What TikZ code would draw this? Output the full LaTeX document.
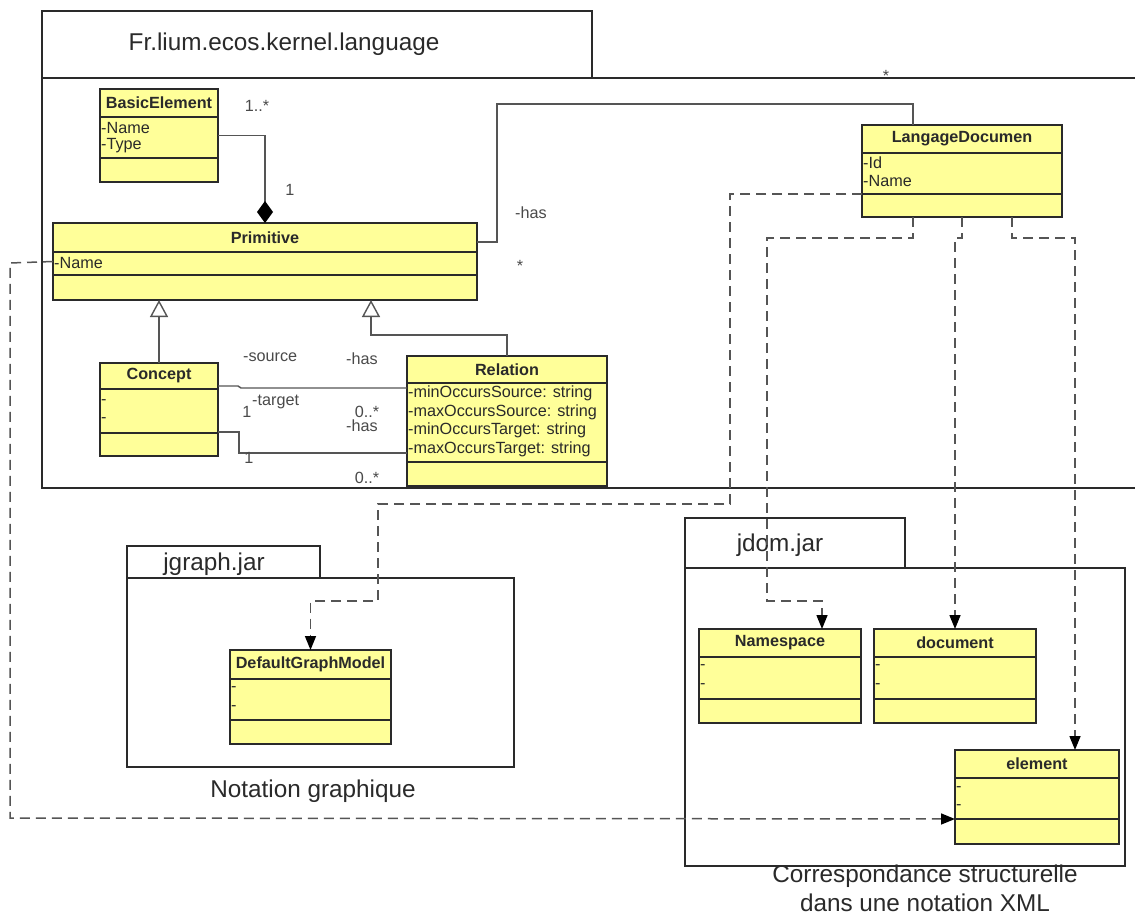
\documentclass[tikz,border=0pt]{standalone}
\usepackage{fontspec}
\setmainfont{Liberation Sans}
\usetikzlibrary{arrows.meta,calc}
\definecolor{clsfill}{HTML}{FFFF99}
\definecolor{ink}{HTML}{2A2A2A}
\definecolor{wire}{HTML}{555555}
\tikzset{
  cls/.style={draw=ink, fill=clsfill, line width=1.4pt, inner sep=0pt, outer sep=0pt, rectangle},
  divline/.style={draw=ink, line width=1.4pt},
  ctitle/.style={font=\bfseries\fontsize{16.2}{18}\selectfont, text=ink, inner sep=0pt},
  attr/.style={font=\fontsize{16.2}{18}\selectfont, text=ink, inner sep=0pt, anchor=west},
  lbl/.style={font=\fontsize{16.2}{18}\selectfont, text=ink!85, inner sep=0pt},
  big/.style={font=\fontsize{24.3}{28}\selectfont, text=ink, inner sep=0pt},
  pkgbox/.style={draw=ink, line width=1.4pt, inner sep=0pt, outer sep=0pt, rectangle, anchor=north west},
  pkgline/.style={draw=ink, line width=1.4pt},
  assoc/.style={draw=wire, line width=1.4pt},
  dep/.style={draw=wire, line width=1.5pt, dash pattern=on 10pt off 6pt,
    -{Triangle[length=14pt,width=11pt,color=black]}},
}
% #1 name, #2 x, #3 top y, #4 width, #5 height, #6 header bottom y, #7 attributes bottom y, #8 title
\newcommand{\umlcls}[8]{%
  \node[cls, minimum width=#4pt, minimum height=#5pt, anchor=north west] (#1) at (#2,#3) {};
  \draw[divline] (#2,#6) -- ++(#4,0);
  \draw[divline] (#2,#7) -- ++(#4,0);
  \node[ctitle] (#1-title) at ($(#2,#3)!0.5!(#2+#4,#6)$) {#8};
}
\begin{document}
\begin{tikzpicture}[x=1pt,y=-1pt]
\useasboundingbox (0,0) rectangle (1135,915);
\fill[white] (0,0) rectangle (1135,915);

% ---------- packages ----------
\node[pkgbox, minimum width=550pt, minimum height=67pt] (maintab) at (42,11) {};
\node[big] (maintitle) at (284,44) {Fr.lium.ecos.kernel.language};
\draw[pkgline] (1135,78) -- (42,78) -- (42,488) -- (1135,488);
\node[lbl] (star0) at (886,76) {*};

\node[pkgbox, minimum width=193pt, minimum height=32pt] (jgtab) at (127,546) {};
\node[pkgbox, minimum width=387pt, minimum height=189pt] (jgbody) at (127,578) {};
\node[big] (jgname) at (214,564) {jgraph.jar};
\node[big] (jgcap) at (313,791) {Notation graphique};

\node[pkgbox, minimum width=220pt, minimum height=50pt] (jdtab) at (685,518) {};
\node[pkgbox, minimum width=440pt, minimum height=298pt] (jdbody) at (685,568) {};
\node[big] (jdname) at (780,545) {jdom.jar};
\node[big] (jdcap1) at (925,876) {Correspondance structurelle};
\node[big] (jdcap2) at (925,903) {dans une notation XML};

% ---------- classes ----------
\umlcls{basic}{100}{89}{118}{93}{117}{158}{BasicElement}
\node[attr] (basic-a1) at (101,128) {-Name};
\node[attr] (basic-a2) at (101,146) {-Type};

\umlcls{prim}{53}{223}{424}{77}{252}{275}{Primitive}
\node[attr] (prim-a1) at (54,263) {-Name};

\umlcls{concept}{100}{363}{118}{93}{389}{433}{Concept}
\node[attr] (concept-a1) at (101,402) {-};
\node[attr] (concept-a2) at (101,420) {-};

\umlcls{rel}{407}{356}{200}{130}{383}{462}{Relation}
\node[attr] (rel-a1) at (408,393) {-minOccursSource: string};
\node[attr] (rel-a2) at (408,412) {-maxOccursSource: string};
\node[attr] (rel-a3) at (408,430) {-minOccursTarget: string};
\node[attr] (rel-a4) at (408,449) {-maxOccursTarget: string};

\umlcls{ld}{862}{125}{200}{92}{153}{194}{LangageDocumen}
\node[attr] (ld-a1) at (863,163) {-Id};
\node[attr] (ld-a2) at (863,181) {-Name};

\umlcls{dgm}{230}{650}{161}{94}{679}{720}{DefaultGraphModel}
\node[attr] (dgm-a1) at (231,689) {-};
\node[attr] (dgm-a2) at (231,708) {-};

\umlcls{ns}{699}{629}{162}{94}{657}{699}{Namespace}
\node[attr] (ns-a1) at (700,667) {-};
\node[attr] (ns-a2) at (700,686) {-};

\umlcls{doc}{874}{629}{162}{94}{657}{699}{document}
\node[attr] (doc-a1) at (875,667) {-};
\node[attr] (doc-a2) at (875,686) {-};

\umlcls{el}{955}{750}{164}{94}{778}{819}{element}
\node[attr] (el-a1) at (956,789) {-};
\node[attr] (el-a2) at (956,807) {-};

% ---------- associations ----------
\draw[assoc, -{Diamond[length=22pt,width=16pt,color=black]}] (basic.east) -| (prim.north);
\node[lbl] (m1) at (257,106) {1..*};
\node[lbl] (m2) at (290,190) {1};

\draw[assoc] ([yshift=-19pt]prim.north east) -- (497,242) -- (497,104) -| ([xshift=-49pt]ld.north);
\node[lbl, anchor=west] (has1) at (515,213) {-has};
\node[lbl] (star1) at (520,266) {*};

\draw[assoc, -{Triangle[open,length=17pt,width=18pt,fill=white]}] (concept.north) -- (concept.north |- prim.south);
\draw[assoc, -{Triangle[open,length=17pt,width=18pt,fill=white]}] (rel.north) -- ++(0,-21) -| ([xshift=106pt]prim.south);

\draw[assoc] ([yshift=-23pt]concept.north east) -- (238,386) -- (241,388) -- ([yshift=33pt]rel.west);
\draw[assoc] ([yshift=-69pt]concept.north east) -- (239,432) -- (239,453) -- ([yshift=-32pt]rel.west);
\node[lbl, anchor=west] (src) at (243,357) {-source};
\node[lbl, anchor=west] (has2) at (346,359) {-has};
\node[lbl, anchor=west] (tgt) at (252,402) {-target};
\node[lbl] (one1) at (247,412) {1};
\node[lbl] (zm1) at (367,412) {0..*};
\node[lbl, anchor=west] (has3) at (346,426) {-has};
\node[lbl] (one2) at (249,458) {1};
\node[lbl] (zm2) at (367,478) {0..*};

% ---------- dependencies ----------
\draw[dep] (prim.west) -- (10,263) -- (10,818) -- ([yshift=-22pt]el.west);
\draw[dep] ([yshift=-23pt]ld.west) -- (730,194) -- (730,504) -- (378,504) -- (378,601) -- (310.5,601) -- (dgm.north);
\draw[dep] ([xshift=-49pt]ld.south) -- ++(0,21) -- (767,238) -- (767,601) -- (822,601) -- ([xshift=42pt]ns.north);
\draw[dep] (ld.south) -- ++(0,21) -| (doc.north);
\draw[dep] ([xshift=50pt]ld.south) -- ++(0,21) -| ([xshift=38pt]el.north);
\end{tikzpicture}
\end{document}
